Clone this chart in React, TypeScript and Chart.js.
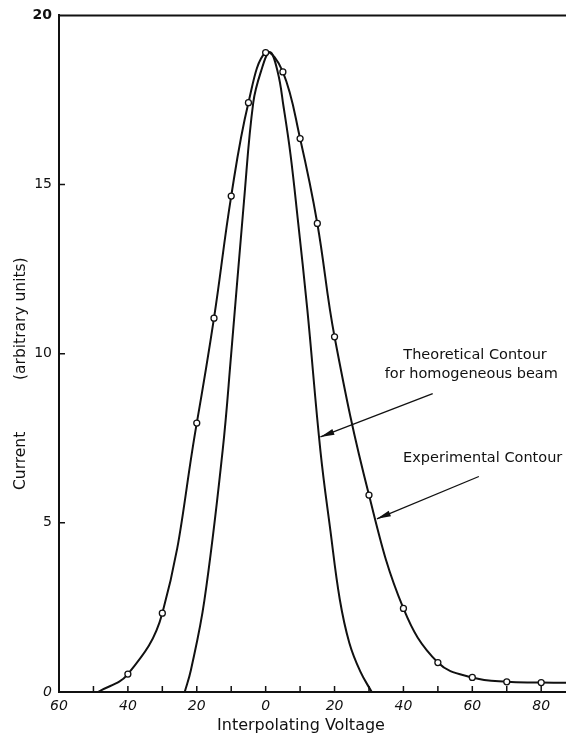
import React, { useEffect, useRef } from "react";
import { Chart, registerables } from "chart.js";

Chart.register(...registerables);

// ---- data ----
const EXP_X = [-48.7, -40, -30, -20, -15, -10, -5, 0, 5, 10, 15, 20, 30, 40, 50, 60, 70, 80, 87.2];
const EXP_Y = [0, 0.53, 2.33, 7.95, 11.05, 14.66, 17.42, 18.9, 18.33, 16.36, 13.85, 10.5, 5.82, 2.47, 0.87, 0.43, 0.3, 0.28, 0.27];
// measured points carry a marker; the two curve ends do not
const EXP_MARKED = [false, true, true, true, true, true, true, true, true, true, true, true, true, true, true, true, true, true, false];

const THEO_X = [-23.5, -21.7, -17.8, -12.5, -10.0, -6.3, -3.6, -1.4, 1.2, 3.5, 5.2, 7.2, 9.3, 12.1, 15.9, 18.8, 21.5, 24.3, 27.5, 30.8];
const THEO_Y = [0, 0.65, 2.7, 7.13, 10, 14.5, 17.42, 18.33, 18.92, 18.33, 17.3, 15.9, 14.0, 11.3, 7.13, 4.77, 2.75, 1.45, 0.6, 0];

const X_MIN = -60;
const X_MAX = 87.2;
const X_MINOR_TICKS = [-50, -40, -30, -20, -10, 0, 10, 20, 30, 40, 50, 60, 70, 80];
const Y_MINOR_TICKS = [5, 10, 15];

const X_TITLE = "Interpolating Voltage";
const Y_TITLE_A = "Current";
const Y_TITLE_B = "(arbitrary units)";

const NOTES = [
  { text: "Theoretical Contour", at: [60.8, 9.96], align: "center" },
  { text: "for homogeneous beam", at: [59.7, 9.4], align: "center" },
  { text: "Experimental Contour", at: [39.9, 6.9], align: "left" },
];
const ARROWS = [
  { from: [48.5, 8.82], to: [15.9, 7.54] },
  { from: [61.9, 6.37], to: [32.3, 5.12] },
];

const INK = "#111";
const FONT = "'DejaVu Sans', sans-serif";

const decorPlugin = {
  id: "decor",
  afterDraw(chart: any) {
    const { ctx, chartArea } = chart;
    const xs = chart.scales.x;
    const ys = chart.scales.y;
    ctx.save();
    ctx.strokeStyle = INK;
    ctx.fillStyle = INK;
    // top frame line
    ctx.lineWidth = 2;
    ctx.beginPath();
    ctx.moveTo(chartArea.left - 1, chartArea.top);
    ctx.lineTo(chartArea.right, chartArea.top);
    ctx.stroke();
    // inner ticks
    ctx.lineWidth = 1.5;
    ctx.beginPath();
    X_MINOR_TICKS.forEach((v) => {
      const px = xs.getPixelForValue(v);
      ctx.moveTo(px, chartArea.bottom);
      ctx.lineTo(px, chartArea.bottom - 6);
    });
    Y_MINOR_TICKS.forEach((v) => {
      const py = ys.getPixelForValue(v);
      ctx.moveTo(chartArea.left, py);
      ctx.lineTo(chartArea.left + 6, py);
    });
    ctx.stroke();
    // arrows
    ctx.lineWidth = 1.3;
    ARROWS.forEach((a) => {
      const x1 = xs.getPixelForValue(a.from[0]);
      const y1 = ys.getPixelForValue(a.from[1]);
      const x2 = xs.getPixelForValue(a.to[0]);
      const y2 = ys.getPixelForValue(a.to[1]);
      ctx.beginPath();
      ctx.moveTo(x1, y1);
      ctx.lineTo(x2, y2);
      ctx.stroke();
      const ang = Math.atan2(y2 - y1, x2 - x1);
      const L = 14;
      const W = 3;
      const bx = x2 - L * Math.cos(ang);
      const by = y2 - L * Math.sin(ang);
      ctx.beginPath();
      ctx.moveTo(x2, y2);
      ctx.lineTo(bx + W * Math.sin(ang), by - W * Math.cos(ang));
      ctx.lineTo(bx - W * Math.sin(ang), by + W * Math.cos(ang));
      ctx.closePath();
      ctx.fill();
    });
    // notes
    ctx.font = `14.5px ${FONT}`;
    ctx.textBaseline = "middle";
    NOTES.forEach((n) => {
      ctx.textAlign = n.align as CanvasTextAlign;
      ctx.fillText(n.text, xs.getPixelForValue(n.at[0]), ys.getPixelForValue(n.at[1]));
    });
    // axis titles
    ctx.font = `16px ${FONT}`;
    ctx.textAlign = "center";
    ctx.fillText(X_TITLE, 301, 726);
    ctx.font = `15.5px ${FONT}`;
    ctx.translate(21, 0);
    ctx.rotate(-Math.PI / 2);
    ctx.textAlign = "left";
    ctx.fillText(Y_TITLE_A, -490, 0);
    ctx.fillText(Y_TITLE_B, -380, 0);
    ctx.restore();
  },
};

export default function App() {
  const ref = useRef<HTMLCanvasElement | null>(null);
  useEffect(() => {
    if (!ref.current) return;
    const chart = new Chart(ref.current, {
      type: "scatter",
      data: {
        datasets: [
          {
            label: "Experimental Contour",
            data: EXP_X.map((x, i) => ({ x, y: EXP_Y[i] })),
            showLine: true,
            borderColor: INK,
            borderWidth: 2,
            pointRadius: EXP_MARKED.map((m) => (m ? 3 : 0)),
            pointBackgroundColor: "#fff",
            pointBorderColor: INK,
            pointBorderWidth: 1.3,
            tension: 0.4,
          },
          {
            label: "Theoretical Contour for homogeneous beam",
            data: THEO_X.map((x, i) => ({ x, y: THEO_Y[i] })),
            showLine: true,
            borderColor: INK,
            borderWidth: 2,
            pointRadius: 0,
            tension: 0.4,
          },
        ],
      },
      options: {
        responsive: false,
        animation: false,
        layout: { padding: { top: 13, left: 0, right: 0, bottom: 0 } },
        plugins: { legend: { display: false }, tooltip: { enabled: false } },
        scales: {
          x: {
            type: "linear",
            min: X_MIN,
            max: X_MAX,
            grid: { display: false, drawTicks: false },
            border: { display: true, color: INK, width: 2 },
            ticks: {
              stepSize: 10,
              includeBounds: false,
              autoSkip: false,
              maxRotation: 0,
              padding: 6,
              color: INK,
              font: { family: FONT, size: 14, style: "italic" },
              callback: (v: any) => (Number(v) % 20 === 0 ? String(Math.abs(Number(v))) : ""),
            },
            afterFit: (s: any) => {
              s.height = 51;
            },
          },
          y: {
            min: 0,
            max: 20,
            grid: { display: false, drawTicks: false },
            border: { display: true, color: INK, width: 2 },
            ticks: {
              stepSize: 5,
              padding: 7,
              color: INK,
              font: (c: any) =>
                c.tick && c.tick.value === 0
                  ? { family: FONT, size: 14, style: "italic" }
                  : c.tick && c.tick.value === 20
                  ? { family: FONT, size: 14, weight: "bold" }
                  : { family: FONT, size: 14 },
            },
            afterFit: (s: any) => {
              s.width = 59;
            },
          },
        },
      },
      plugins: [decorPlugin],
    });
    return () => chart.destroy();
  }, []);
  return (
    <div style={{ position: "fixed", left: 0, top: 0, width: 566, height: 743, background: "#fff" }}>
      <canvas ref={ref} width={566} height={743} />
    </div>
  );
}
